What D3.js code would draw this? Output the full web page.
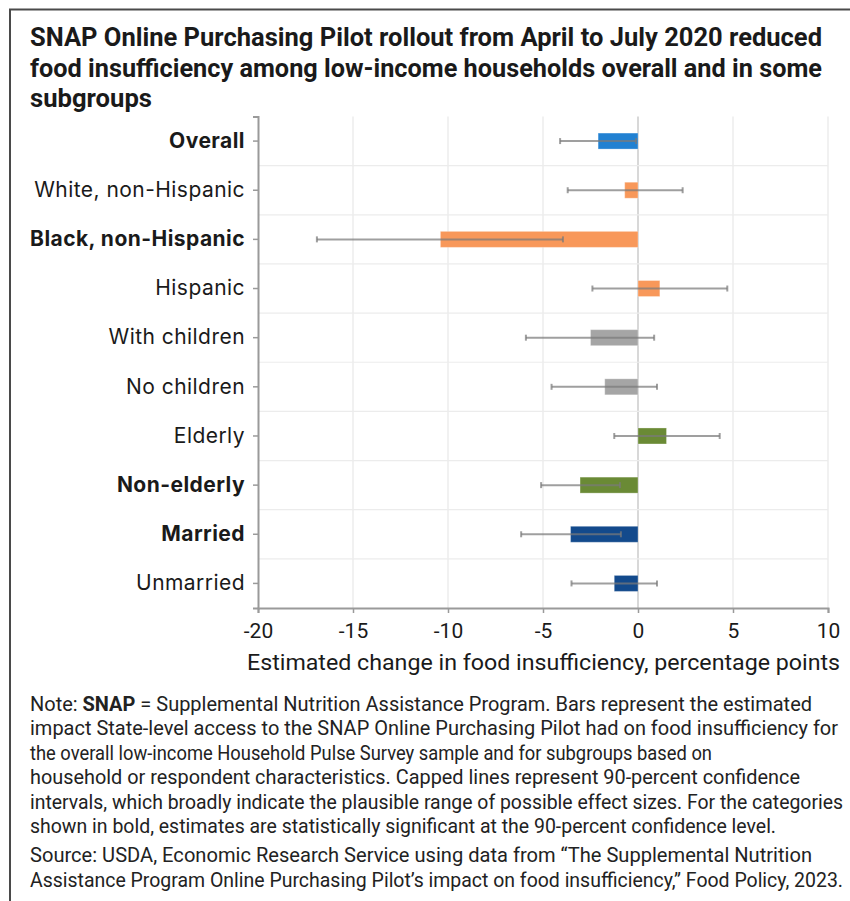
<!DOCTYPE html>
<html>
<head>
<meta charset="utf-8">
<script src="https://cdn.jsdelivr.net/npm/d3@7"></script>
<style>
  html, body { margin: 0; padding: 0; background: #fff; }
  svg { display: block; }
</style>
</head>
<body>
<script>
// Estimated change in food insufficiency (percentage points) by subgroup
const categories = ["Overall", "White, non-Hispanic", "Black, non-Hispanic", "Hispanic",
  "With children", "No children", "Elderly", "Non-elderly", "Married", "Unmarried"];
const estimates = [-2.1, -0.7, -10.4, 1.15, -2.5, -1.75, 1.5, -3.05, -3.55, -1.25];
const ciLow     = [-4.1, -3.7, -16.9, -2.4, -5.9, -4.55, -1.25, -5.1, -6.15, -3.5];
const ciHigh    = [-0.1, 2.35, -3.95, 4.7, 0.85, 1.0, 4.3, -0.95, -0.9, 1.0];
const significant = [true, false, true, false, false, false, false, true, true, false];
const groups = ["overall", "race", "race", "race", "children", "children", "age", "age", "marital", "marital"];
const xTicks = [-20, -15, -10, -5, 0, 5, 10];

const titleLines = [
  "SNAP Online Purchasing Pilot rollout from April to July 2020 reduced",
  "food insufficiency among low-income households overall and in some",
  "subgroups"
];
const axisTitle = "Estimated change in food insufficiency, percentage points";
const noteLines = [
  [["Note: ", false], ["SNAP", true], [" = Supplemental Nutrition Assistance Program. Bars represent the estimated", false]],
  [["impact State-level access to the SNAP Online Purchasing Pilot had on food insufficiency for", false]],
  [["the overall low-income Household Pulse Survey sample and for subgroups based on", false]],
  [["household or respondent characteristics. Capped lines represent 90-percent confidence", false]],
  [["intervals, which broadly indicate the plausible range of possible effect sizes. For the categories", false]],
  [["shown in bold, estimates are statistically significant at the 90-percent confidence level.", false]]
];
const sourceLines = [
  "Source: USDA, Economic Research Service using data from \u201cThe Supplemental Nutrition",
  "Assistance Program Online Purchasing Pilot\u2019s impact on food insufficiency,\u201d Food Policy, 2023."
];

const groupColor = {
  overall: "#2181d2",
  race: "#f8985a",
  children: "#a5a5a5",
  age: "#6a8a35",
  marital: "#134a8c"
};

const W = 850, H = 901;
const svg = d3.select("body").append("svg").attr("width", W).attr("height", H);

// outer frame (only top and left edges fall inside the canvas)
svg.append("path").attr("d", `M10,${H} V9.5 H${W}`)
  .attr("fill", "none").attr("stroke", "#4a4a4a").attr("stroke-width", 2);

const condensed = "Roboto, 'Liberation Sans', sans-serif";
const regular = "Inter, 'Liberation Sans', Arial, sans-serif";

// Title
const titleWidths = [792, 792, 122];
const titleBase = [46, 77, 107];
titleLines.forEach((t, i) => {
  svg.append("text").attr("x", 30).attr("y", titleBase[i])
    .attr("font-family", condensed).attr("font-weight", 700).attr("font-size", 25.5)
    .attr("fill", "#1a1a1a")
    .attr("textLength", titleWidths[i]).attr("lengthAdjust", "spacingAndGlyphs")
    .text(t);
});

// Plot area
const plotLeft = 258, plotRight = 828, plotTop = 116.5, plotBottom = 608;
const x = d3.scaleLinear().domain([-20, 10]).range([plotLeft, plotRight]);
const y = d3.scaleBand().domain(categories).range([plotTop, plotBottom]).paddingInner(0).paddingOuter(0);
const barH = 16;

// gridlines
const grid = svg.append("g");
grid.selectAll("line.v").data(xTicks.filter(d => d !== -20)).join("line")
  .attr("x1", d => x(d)).attr("x2", d => x(d))
  .attr("y1", plotTop).attr("y2", plotBottom)
  .attr("stroke", d => d === 0 ? "#cfcfcf" : "#e8e8e8")
  .attr("stroke-width", d => d === 0 ? 1.6 : 1.2);
grid.selectAll("line.h").data(categories.slice(1)).join("line")
  .attr("x1", plotLeft).attr("x2", plotRight)
  .attr("y1", d => y(d)).attr("y2", d => y(d))
  .attr("stroke", "#ececec").attr("stroke-width", 1.2);

// bars
svg.append("g").selectAll("rect").data(categories).join("rect")
  .attr("x", (d, i) => x(Math.min(0, estimates[i])))
  .attr("width", (d, i) => Math.abs(x(estimates[i]) - x(0)))
  .attr("y", d => y(d) + y.bandwidth() / 2 - barH / 2)
  .attr("height", barH)
  .attr("fill", (d, i) => groupColor[groups[i]])
  .attr("stroke", "#ffffff").attr("stroke-opacity", 0.3).attr("stroke-width", 1);

// confidence intervals
const ci = svg.append("g").attr("stroke", "#7a7a7a").attr("stroke-opacity", 0.72).attr("stroke-width", 2);
categories.forEach((c, i) => {
  const cy = y(c) + y.bandwidth() / 2;
  ci.append("line").attr("x1", x(ciLow[i])).attr("x2", x(ciHigh[i])).attr("y1", cy).attr("y2", cy);
  [ciLow[i], ciHigh[i]].forEach(v => {
    ci.append("line").attr("x1", x(v)).attr("x2", x(v)).attr("y1", cy - 3).attr("y2", cy + 3);
  });
});

// axes
const xAxis = svg.append("g").attr("transform", `translate(0,${plotBottom})`)
  .call(d3.axisBottom(x).tickValues(xTicks).tickSize(5).tickPadding(10).tickFormat(d3.format("d")));
xAxis.select(".domain").attr("stroke", "#9a9a9a").attr("stroke-width", 2);
xAxis.selectAll(".tick line").attr("stroke", "#9a9a9a").attr("stroke-width", 1.5);
xAxis.selectAll(".tick text").attr("font-family", condensed).attr("font-size", 21)
  .attr("fill", "#1a1a1a").text(d => d < 0 ? "-" + Math.abs(d) : d);

const yAxis = svg.append("g").attr("transform", `translate(${plotLeft},0)`)
  .call(d3.axisLeft(y).tickSize(5).tickPadding(8));
yAxis.select(".domain").attr("stroke", "#9a9a9a").attr("stroke-width", 2);
yAxis.selectAll(".tick line").attr("stroke", "#9a9a9a").attr("stroke-width", 1.5);
yAxis.selectAll(".tick text").attr("font-family", regular).attr("font-size", 21)
  .attr("letter-spacing", 0.45)
  .attr("fill", "#1a1a1a")
  .attr("font-weight", (d, i) => significant[i] ? 700 : 400);

// axis title
svg.append("text").attr("x", 247).attr("y", 670)
  .attr("font-family", condensed).attr("font-size", 21.5).attr("fill", "#1a1a1a")
  .attr("textLength", 593).attr("lengthAdjust", "spacingAndGlyphs")
  .text(axisTitle);

// note
const noteWidths = [782, 808, 682, 770, 813, 746];
const noteBase = [711, 735, 760, 784, 809, 833];
noteLines.forEach((parts, i) => {
  const t = svg.append("text").attr("x", 30).attr("y", noteBase[i])
    .attr("font-family", condensed).attr("font-size", 19.5).attr("fill", "#222")
    .attr("textLength", noteWidths[i]).attr("lengthAdjust", "spacingAndGlyphs");
  parts.forEach(([s, b]) => t.append("tspan").attr("font-weight", b ? 700 : 400).text(s));
});

// source
const sourceWidths = [782, 813];
const sourceBase = [862, 887];
sourceLines.forEach((s, i) => {
  svg.append("text").attr("x", 30).attr("y", sourceBase[i])
    .attr("font-family", condensed).attr("font-size", 19.5).attr("fill", "#222")
    .attr("textLength", sourceWidths[i]).attr("lengthAdjust", "spacingAndGlyphs")
    .text(s);
});
</script>
</body>
</html>
